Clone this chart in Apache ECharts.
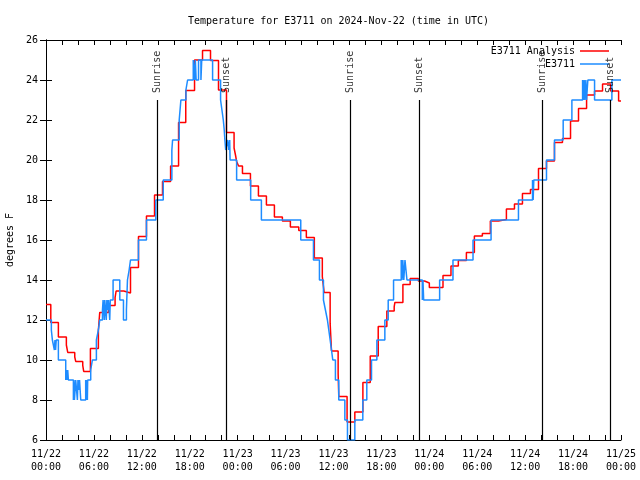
<!DOCTYPE html>
<html><head><meta charset="utf-8">
<script src="https://cdn.jsdelivr.net/npm/echarts@6/dist/echarts.min.js"></script>
<style>html,body{margin:0;padding:0;background:#fff}#c{width:640px;height:480px}</style>
</head><body><div id="c"></div>
<script>
const dayLabels = ['11/22', '11/23', '11/24', '11/25'];
const hourLabels = ['00:00', '06:00', '12:00', '18:00'];
const yTicks = [6, 8, 10, 12, 14, 16, 18, 20, 22, 24, 26];

// E3711 Analysis (hours since 11/22 00:00 UTC, deg F)
const analysisHours = [0, 0.6, 1.55, 2.55, 2.72, 3.6, 3.72, 4.6, 4.72, 5.56, 6.56, 6.73, 7.82, 8.65, 8.78, 9.74, 10.58, 11.58, 12.58, 13.59, 14.59, 15.6, 16.6, 17.5, 18.6, 19.6, 20.6, 21.6, 22.6, 23.55, 23.75, 23.87, 24.12, 24.6, 25.6, 26.6, 27.6, 28.6, 29.6, 30.6, 31.65, 32.6, 33.6, 34.6, 34.83, 35.58, 35.75, 36.58, 36.66, 37.7, 38.67, 39.68, 40.6, 41.6, 42.68, 43.6, 43.69, 44.69, 45.6, 46.62, 47.4, 48.0, 49.71, 50.71, 51.63, 52.64, 53.64, 54.64, 55.64, 56.65, 57.65, 58.66, 59.66, 60.66, 61.67, 62.67, 63.67, 64.67, 65.68, 66.68, 67.69, 68.69, 69.69, 70.7, 71.7, 72];
const analysisTemps = [12.78, 11.88, 11.15, 10.75, 10.38, 10.15, 9.93, 9.73, 9.43, 10.58, 11.5, 12.38, 12.72, 13.12, 13.45, 13.35, 14.62, 16.18, 17.2, 18.25, 18.92, 19.7, 21.87, 23.47, 25.0, 25.47, 24.97, 23.5, 21.37, 20.6, 20.2, 19.92, 19.7, 19.33, 18.7, 18.2, 17.75, 17.15, 16.95, 16.65, 16.48, 16.13, 15.1, 14.17, 13.37, 11.83, 10.45, 9.33, 8.17, 6.9, 7.4, 8.88, 10.2, 11.68, 12.45, 12.67, 12.88, 13.78, 14.08, 13.95, 13.85, 13.62, 14.23, 14.7, 14.97, 15.38, 16.2, 16.33, 16.95, 17.03, 17.55, 17.8, 18.33, 18.53, 19.58, 19.95, 20.87, 21.07, 21.95, 22.58, 23.25, 23.45, 23.8, 23.45, 22.95, 22.95];

// E3711 observations
const obsHours = [0, 0.67, 0.8, 1.05, 1.12, 1.2, 1.28, 1.55, 2.47, 2.55, 2.62, 2.72, 2.8, 3.43, 3.5, 3.56, 3.72, 3.93, 4.0, 4.08, 4.2, 4.35, 4.97, 5.03, 5.12, 5.18, 5.22, 5.6, 5.81, 6.31, 6.56, 6.73, 7.07, 7.15, 7.3, 7.36, 7.55, 7.62, 7.75, 7.82, 7.98, 8.05, 8.4, 9.24, 9.7, 10.07, 10.2, 10.41, 10.58, 11.58, 12.58, 13.75, 14.68, 15.76, 15.85, 16.68, 16.89, 17.52, 17.73, 18.44, 18.6, 18.7, 18.8, 19.1, 19.4, 19.5, 20.86, 21.86, 22.03, 22.2, 22.32, 22.4, 22.5, 22.75, 22.87, 23.0, 23.05, 23.87, 25.63, 26.97, 31.9, 33.49, 34.24, 34.74, 34.99, 35.24, 35.41, 35.58, 35.75, 35.91, 36.24, 36.66, 37.42, 37.75, 38.67, 39.67, 40.17, 40.76, 41.43, 42.43, 42.85, 43.52, 44.48, 44.58, 44.68, 44.8, 44.95, 45.2, 47.12, 47.2, 47.29, 49.29, 50.96, 53.47, 55.73, 59.16, 60.92, 61.0, 61.08, 62.67, 63.67, 64.76, 65.85, 67.19, 67.27, 67.39, 67.47, 67.6, 67.68, 67.85, 68.69, 70.86, 72];
const obsTemps = [12, 11.5, 11, 10.5, 11, 10.5, 11, 10, 9, 9.5, 9, 9.5, 9, 8, 9, 8, 9, 8, 9, 8.5, 9, 8, 9, 8, 9, 8, 9, 9.5, 10, 11, 11.5, 12, 12.5, 13, 12, 13, 12, 13, 12.5, 13, 12, 13, 14, 13, 12, 12.5, 14, 14.5, 15, 16, 17, 18, 19, 20.5, 21, 22, 23, 23.5, 24, 25, 24, 25, 24, 25, 24, 25, 24, 23, 22.5, 22, 21.5, 21, 20.5, 21, 20.5, 21, 20, 19, 18, 17, 16, 15, 14, 13, 12.5, 12, 11.5, 11, 10.5, 10, 9, 8, 7, 6, 7, 8, 9, 10, 11, 12, 13, 14, 15, 14, 15, 14, 15, 14, 13, 14, 13, 14, 15, 16, 17, 18, 19, 18, 19, 20, 21, 22, 23, 24, 23, 24, 23, 24, 23, 24, 23, 24, 24];

// Sunrise / sunset markers
const eventHours = [13.96, 22.62, 38.09, 46.7, 62.13, 70.65];
const eventNames = ['Sunrise', 'Sunset', 'Sunrise', 'Sunset', 'Sunrise', 'Sunset'];
const eventTop = 23;

const FONT = 'DejaVu Sans Mono';
const chart = echarts.init(document.getElementById('c'), null, {renderer: 'canvas'});

const xCommon = {
  type: 'value', min: 0, max: 72, interval: 2,
  axisLine: {show: true, lineStyle: {color: '#000', width: 1}},
  axisTick: {show: true, inside: true, length: 5, lineStyle: {color: '#000'}},
  splitLine: {show: false}
};
const yCommon = {
  type: 'value', min: yTicks[0], max: yTicks[yTicks.length - 1], interval: 2,
  axisLine: {show: true, lineStyle: {color: '#000', width: 1}},
  axisTick: {show: true, inside: true, length: 6, lineStyle: {color: '#000'}},
  splitLine: {show: false}
};

chart.setOption({
  animation: false,
  backgroundColor: '#fff',
  title: {
    text: 'Temperature for E3711 on 2024-Nov-22 (time in UTC)',
    left: 183, top: 11,
    textStyle: {fontFamily: FONT, fontSize: 10, fontWeight: 'normal', color: '#000'}
  },
  legend: {
    orient: 'vertical', right: 26, top: 40, align: 'right',
    icon: 'rect', itemWidth: 29, itemHeight: 1.5, itemGap: 1,
    textStyle: {fontFamily: FONT, fontSize: 10, color: '#000', lineHeight: 12, height: 12},
    data: ['E3711 Analysis', 'E3711']
  },
  grid: {left: 46, right: 19, top: 40, bottom: 40, containLabel: false, outerBoundsMode: 'none'},
  xAxis: [
    Object.assign({}, xCommon, {
      position: 'bottom',
      axisLabel: {
        show: true, margin: 8, fontFamily: FONT, fontSize: 10, color: '#000', lineHeight: 13,
        showMinLabel: true, showMaxLabel: true,
        formatter: v => (v % 6 === 0) ? dayLabels[Math.floor(v / 24)] + '\n' + hourLabels[(v % 24) / 6] : ''
      }
    }),
    Object.assign({}, xCommon, {position: 'top', axisLabel: {show: false}})
  ],
  yAxis: [
    Object.assign({}, yCommon, {
      position: 'left',
      name: 'degrees F', nameLocation: 'middle', nameGap: 31, nameRotate: 90,
      nameTextStyle: {fontFamily: FONT, fontSize: 10, color: '#000'},
      axisLabel: {show: true, margin: 8, fontFamily: FONT, fontSize: 10, color: '#000'}
    }),
    Object.assign({}, yCommon, {position: 'right', axisLabel: {show: false}})
  ],
  series: [
    {
      name: 'E3711 Analysis', type: 'line', step: 'end', symbol: 'none',
      xAxisIndex: 0, yAxisIndex: 0,
      color: '#ff0000',
      lineStyle: {color: '#ff0000', width: 1.5},
      data: analysisHours.map((h, i) => [h, analysisTemps[i]]),
      z: 3
    },
    {
      name: 'E3711', type: 'line', step: 'end', symbol: 'none',
      xAxisIndex: 0, yAxisIndex: 0,
      color: '#1e8cff',
      lineStyle: {color: '#1e8cff', width: 1.5},
      data: obsHours.map((h, i) => [h, obsTemps[i]]),
      z: 4
    },
    {
      name: 'events', type: 'scatter', symbolSize: 0.1,
      xAxisIndex: 0, yAxisIndex: 0,
      itemStyle: {color: 'rgba(0,0,0,0)'},
      silent: true,
      data: eventHours.map(h => [h, eventTop]),
      label: {
        show: true, formatter: p => eventNames[p.dataIndex],
        position: 'top', distance: 7, rotate: 90, align: 'left', verticalAlign: 'middle',
        fontFamily: FONT, fontSize: 10, color: '#000'
      },
      markLine: {
        silent: true, symbol: ['none', 'none'],
        label: {show: false},
        lineStyle: {color: '#000', width: 1.2, type: 'solid'},
        data: eventHours.map(h => [{coord: [h, yTicks[0]]}, {coord: [h, eventTop]}])
      },
      z: 5
    }
  ]
});
</script></body></html>
